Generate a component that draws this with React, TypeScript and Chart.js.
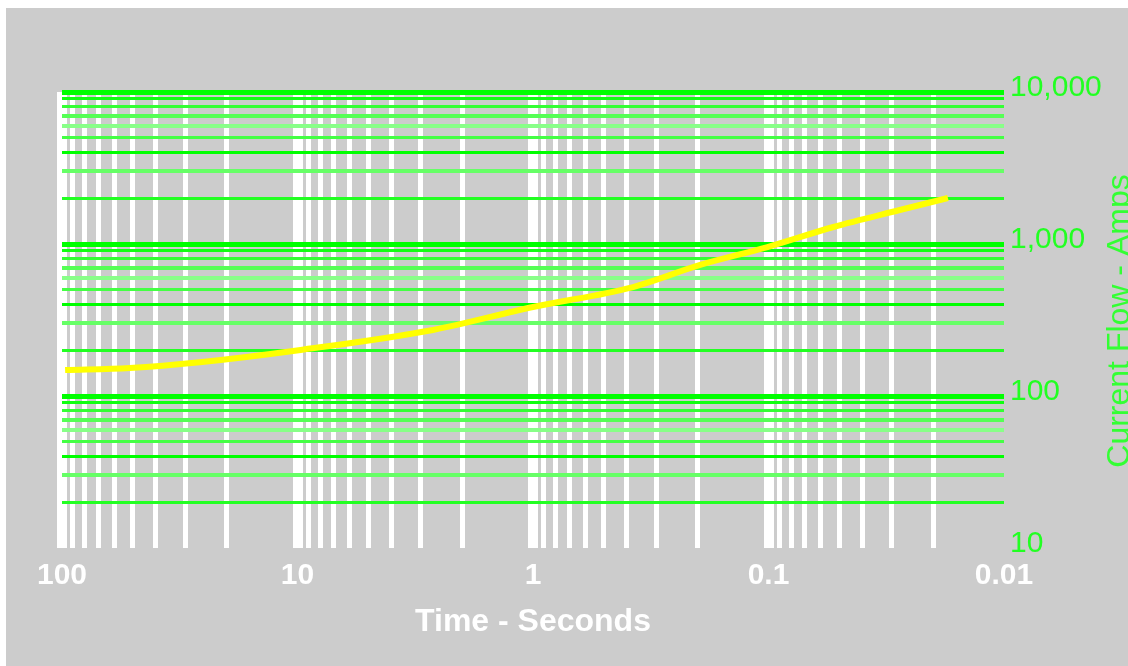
import React, { useEffect, useRef } from 'react';
import { Chart, registerables } from 'chart.js';

Chart.register(...registerables);

// ---- data ----
const timeSeconds = [97, 51.5, 26, 9.7, 2.66, 1.0, 0.376, 0.195, 0.101, 0.053, 0.0277, 0.0173];
const currentAmps = [148, 153, 167, 201, 272, 385, 521, 728, 955, 1294, 1673, 2008];

const xDecades = [100, 10, 1, 0.1, 0.01];
const xDecadeLabels = ['100', '10', '1', '0.1', '0.01'];
const yDecades = [10, 100, 1000, 10000];
const yDecadeLabels = ['10', '100', '1,000', '10,000'];
const mantissas = [1, 2, 3, 4, 5, 6, 7, 8, 9];

const xTitle = 'Time - Seconds';
const yTitle = 'Current Flow - Amps';

const clean = (v: number) => parseFloat(v.toPrecision(6));
const xTickValues: number[] = [];
[0.01, 0.1, 1, 10].forEach((d) => mantissas.forEach((m) => xTickValues.push(clean(m * d))));
xTickValues.push(100);
const yTickValues: number[] = [];
[10, 100, 1000].forEach((d) => mantissas.forEach((m) => yTickValues.push(clean(m * d))));
yTickValues.push(10000);

const same = (a: number, b: number) => Math.abs(a - b) / b < 1e-6;
const mantissaOf = (v: number) => Math.round(v / Math.pow(10, Math.floor(Math.log10(v) + 1e-9)));

const FONT = "'Liberation Sans', Arial, sans-serif";

const hColor: Record<number, string> = {
  1: '#00ff00', 2: '#22ff22', 3: '#66ff66', 4: '#00ff00', 5: '#44ff44',
  6: '#88ff88', 7: '#55ff55', 8: '#33ff33', 9: '#11ff11',
};
const hWidth: Record<number, number> = {
  1: 5, 2: 3, 3: 4, 4: 3, 5: 3, 6: 4, 7: 4, 8: 3, 9: 3,
};

const yTitlePlugin = {
  id: 'yTitleRight',
  afterDraw(chart: any) {
    const { ctx, chartArea } = chart;
    ctx.save();
    ctx.translate(1123, (chartArea.top + chartArea.bottom) / 2 + 1);
    ctx.rotate(-Math.PI / 2);
    ctx.font = `32px ${FONT}`;
    ctx.fillStyle = '#33ff33';
    ctx.textAlign = 'center';
    ctx.textBaseline = 'alphabetic';
    ctx.fillText(yTitle, 0, 0);
    ctx.restore();
  },
};

export default function App() {
  const ref = useRef<HTMLCanvasElement>(null);
  useEffect(() => {
    const chart = new Chart(ref.current!, {
      type: 'line',
      data: {
        datasets: [
          {
            data: timeSeconds.map((t, i) => ({ x: t, y: currentAmps[i] })),
            borderColor: '#ffff00',
            borderWidth: 6,
            pointRadius: 0,
            cubicInterpolationMode: 'monotone',
            fill: false,
          },
        ],
      },
      options: {
        animation: false,
        responsive: false,
        devicePixelRatio: 1,
        layout: { padding: { left: 56, top: 84, right: 0, bottom: 0 } },
        plugins: { legend: { display: false }, tooltip: { enabled: false } },
        scales: {
          x: {
            type: 'logarithmic',
            position: 'bottom',
            reverse: true,
            min: 0.01,
            max: 100,
            z: -1,
            border: { display: false },
            afterBuildTicks: (scale: any) => {
              scale.ticks = xTickValues.map((v) => ({ value: v }));
            },
            afterFit: (scale: any) => {
              scale.height = 118;
            },
            grid: {
              drawTicks: false,
              color: (ctx: any) => {
                const v = ctx.tick ? ctx.tick.value : 0;
                if (same(v, 0.01)) return 'rgba(0,0,0,0)';
                return '#ffffff';
              },
              lineWidth: (ctx: any) => {
                const v = ctx.tick ? ctx.tick.value : 0;
                return xDecades.some((d) => same(v, d)) ? 10 : 5;
              },
            },
            ticks: {
              autoSkip: false,
              maxRotation: 0,
              padding: 10,
              color: '#ffffff',
              font: { family: FONT, size: 30, weight: 'bold' },
              callback: (value: any) => {
                const i = xDecades.findIndex((d) => same(Number(value), d));
                return i >= 0 ? xDecadeLabels[i] : '';
              },
            },
            title: {
              display: true,
              text: xTitle,
              color: '#ffffff',
              font: { family: FONT, size: 32, weight: 'bold' },
              padding: { top: 0, bottom: 25 },
            },
          },
          y: {
            type: 'logarithmic',
            position: 'right',
            min: 10,
            max: 10000,
            z: 0,
            border: { display: false },
            afterBuildTicks: (scale: any) => {
              scale.ticks = yTickValues.map((v) => ({ value: v }));
            },
            afterFit: (scale: any) => {
              scale.width = 124;
            },
            grid: {
              drawTicks: false,
              color: (ctx: any) => {
                const v = ctx.tick ? ctx.tick.value : 0;
                if (same(v, 10)) return 'rgba(0,0,0,0)';
                return hColor[mantissaOf(v)] || '#00ff00';
              },
              lineWidth: (ctx: any) => {
                const v = ctx.tick ? ctx.tick.value : 0;
                return hWidth[mantissaOf(v)] || 3;
              },
            },
            ticks: {
              autoSkip: false,
              padding: 6,
              labelOffset: -4,
              color: '#22ff22',
              font: { family: FONT, size: 30 },
              callback: (value: any) => {
                const i = yDecades.findIndex((d) => same(Number(value), d));
                return i >= 0 ? yDecadeLabels[i] : '';
              },
            },
          },
        },
      } as any,
      plugins: [yTitlePlugin],
    });
    return () => chart.destroy();
  }, []);
  return (
    <div style={{ position: 'fixed', left: 6, top: 8, width: 1122, height: 658, background: '#cccccc' }}>
      <canvas ref={ref} width={1122} height={658} style={{ display: 'block' }} />
    </div>
  );
}
